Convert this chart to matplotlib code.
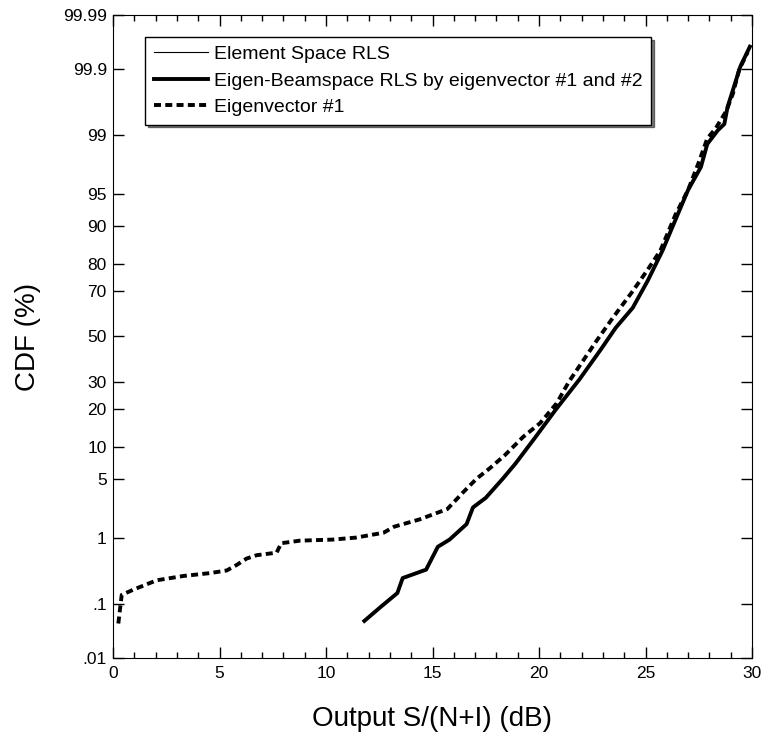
import math
from statistics import NormalDist
import numpy as np
import matplotlib
matplotlib.use("Agg")
import matplotlib.pyplot as plt
from matplotlib.ticker import FixedLocator, NullLocator, MultipleLocator

plt.rcParams['font.family'] = ['Liberation Sans', 'DejaVu Sans']

# CDF in percent vs output S/(N+I) in dB
beam_x = [11.8, 12.6, 13.35, 13.6, 14.7, 15.25, 15.8, 16.6, 16.9, 17.5, 18.3, 18.9, 19.8,
          20.8, 21.9, 22.9, 23.6, 24.4, 25.1, 25.8, 26.5, 27.0, 27.6, 27.9, 28.4, 28.7,
          28.85, 29.1, 29.45, 29.9]
beam_p = [0.05, 0.09, 0.15, 0.26, 0.35, 0.75, 0.94, 1.5, 2.4, 3.1, 5.0, 7.1, 12.0,
          20.0, 31.0, 44.0, 54.0, 63.0, 74.0, 84.0, 92.0, 95.5, 97.5, 98.7, 99.15, 99.3,
          99.6, 99.78, 99.91, 99.96]

elem_x = beam_x
elem_p = beam_p

eig1_x = [0.25, 0.36, 0.41, 0.95, 2.05, 3.3, 4.55, 5.34, 5.8, 6.27, 6.74, 7.68, 7.9, 8.78,
          10.3, 11.4, 12.7, 13.2, 14.4, 15.7, 16.45, 17.07, 17.7, 18.4, 19.26, 20.05, 20.83,
          21.4, 22.7, 23.5, 24.4, 25.1, 25.7, 26.4, 27.0, 27.5, 27.9, 28.3, 28.8, 29.1,
          29.4, 29.8]
eig1_p = [0.045, 0.1, 0.14, 0.17, 0.24, 0.28, 0.31, 0.34, 0.41, 0.51, 0.57, 0.62, 0.84, 0.91,
          0.94, 1.0, 1.16, 1.39, 1.72, 2.3, 3.6, 5.0, 6.4, 8.5, 12.3, 15.8, 22.0,
          30.0, 48.0, 59.0, 70.0, 78.0, 84.0, 92.0, 95.5, 97.8, 98.9, 99.2, 99.55, 99.75,
          99.9, 99.95]

y_ticks = [0.01, 0.1, 1, 5, 10, 20, 30, 50, 70, 80, 90, 95, 99, 99.9, 99.99]
y_labels = ['.01', '.1', '1', '5', '10', '20', '30', '50', '70', '80', '90', '95', '99',
            '99.9', '99.99']
x_ticks = [0, 5, 10, 15, 20, 25, 30]

# normal probability scale for the y axis
_nd = NormalDist()
_ppf = np.vectorize(lambda q: _nd.inv_cdf(q), otypes=[float])
_erf = np.vectorize(math.erf, otypes=[float])

def fwd(p):
    p = np.clip(np.asarray(p, dtype=float), 1e-7, 100 - 1e-7)
    p = np.nan_to_num(p, nan=50.0)
    return _ppf(p / 100.0)

def inv(z):
    z = np.asarray(z, dtype=float)
    return 50.0 * (1.0 + _erf(z / math.sqrt(2.0)))

fig = plt.figure(figsize=(7.72, 7.38), dpi=100)
ax = fig.add_axes([113/772, 80/738, 639/772, 643/738])
ax.set_yscale('function', functions=(fwd, inv))

ax.plot(elem_x, elem_p, color='black', lw=0.8, label='Element Space RLS')
ax.plot(beam_x, beam_p, color='black', lw=2.8,
        label='Eigen-Beamspace RLS by eigenvector #1 and #2')
ax.plot(eig1_x, eig1_p, color='black', lw=2.8, linestyle=(0, (1.8, 1.1)),
        label='Eigenvector #1')

ax.set_xlim(0, 30)
ax.set_ylim(0.01, 99.99)
ax.yaxis.set_major_locator(FixedLocator(y_ticks))
ax.set_yticklabels(y_labels)
ax.yaxis.set_minor_locator(NullLocator())
ax.xaxis.set_major_locator(FixedLocator(x_ticks))
ax.xaxis.set_minor_locator(MultipleLocator(1))

ax.tick_params(axis='both', which='both', direction='in', top=True, right=True,
               labelsize=12.5)
ax.tick_params(axis='y', pad=4.5)
ax.tick_params(axis='x', pad=6)
ax.tick_params(axis='both', which='major', length=8, width=1)
ax.tick_params(axis='both', which='minor', length=4, width=1)

ax.set_xlabel('Output S/(N+I) (dB)', fontsize=20)
ax.set_ylabel('CDF (%)', fontsize=20)
ax.xaxis.set_label_coords(0.5, -0.075)
ax.yaxis.set_label_coords(-0.112, 0.5)

leg = ax.legend(loc='upper left', bbox_to_anchor=(0.050, 0.966), borderaxespad=0,
                fancybox=False, edgecolor='black', framealpha=1, fontsize=14,
                handlelength=2.8, handletextpad=0.3, labelspacing=0.45, borderpad=0.45,
                shadow={'color': 'black'})
leg.get_frame().set_linewidth(1.0)

fig.savefig('out.png', dpi=100)
